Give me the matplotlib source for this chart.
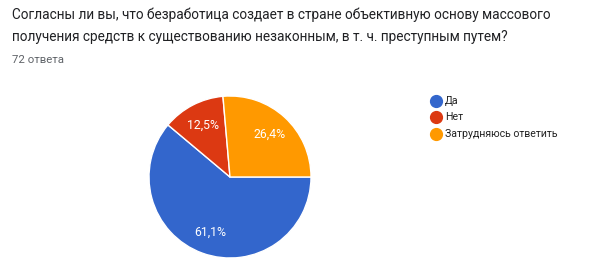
import matplotlib
matplotlib.use("Agg")
import matplotlib.pyplot as plt
from matplotlib.lines import Line2D

categories = ["Да", "Нет", "Затрудняюсь ответить"]
counts = [44, 9, 19]
colors = ["#3366CC", "#DC3912", "#FF9900"]
title_lines = ["Согласны ли вы, что безработица создает в стране объективную основу массового",
               "получения средств к существованию незаконным, в т. ч. преступным путем?"]
subtitle = "72 ответа"

W, H = 598, 265
fig = plt.figure(figsize=(W / 100, H / 100), dpi=100)
fig.patch.set_facecolor("white")

cx, cy, r = 230, 177, 81
ax = fig.add_axes([(cx - r) / W, (H - cy - r) / H, 2 * r / W, 2 * r / H])
wedges, texts, autotexts = ax.pie(
    counts, colors=colors, startangle=0, counterclock=False,
    autopct=lambda p: f"{p:.1f}%".replace(".", ","), pctdistance=0.72,
    wedgeprops=dict(edgecolor="white", linewidth=1),
    textprops=dict(color="white", fontsize=8.8, family="Roboto"))
ax.set_xlim(-1, 1)
ax.set_ylim(-1, 1)
ax.set_aspect("equal")
ax.axis("off")

fig.text(12 / W, 1 - 15 / H, title_lines[0], fontsize=9.8, family="Roboto",
         color="#202124", va="center", ha="left")
fig.text(12 / W, 1 - 37 / H, title_lines[1], fontsize=9.8, family="Roboto",
         color="#202124", va="center", ha="left")
fig.text(12 / W, 1 - 60 / H, subtitle, fontsize=8.2, family="Roboto",
         color="#5f6368", va="center", ha="left")

ys = [101, 117, 134]
for cat, col, y in zip(categories, colors, ys):
    fig.lines.append(Line2D([436 / W], [1 - y / H], marker="o", markersize=8.5,
                            color=col, transform=fig.transFigure, linestyle=""))
    fig.text(445 / W, 1 - y / H, cat, fontsize=7.6, family="Roboto",
             color="#222222", va="center", ha="left")

fig.savefig("out.png", dpi=100, facecolor="white")
